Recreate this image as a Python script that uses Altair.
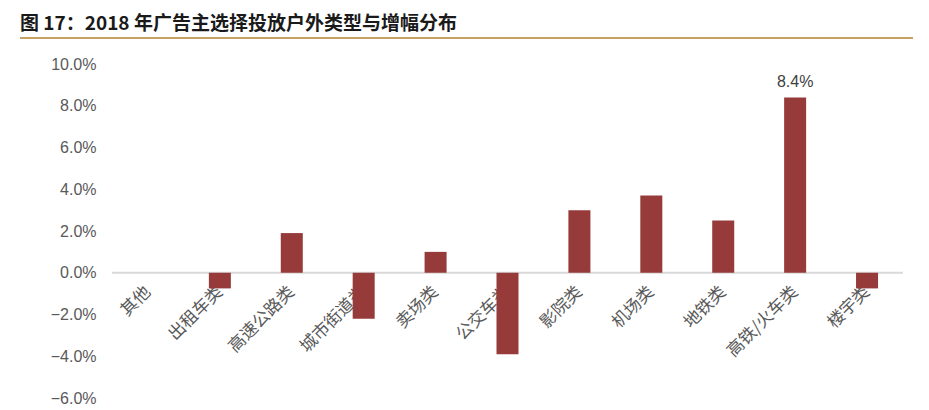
import altair as alt
import pandas as pd

categories = ["其他", "出租车类", "高速公路类", "城市街道类", "卖场类", "公交车类",
              "影院类", "机场类", "地铁类", "高铁/火车类", "楼宇类"]
values = [0.0, -0.0075, 0.019, -0.022, 0.010, -0.039, 0.030, 0.037, 0.025, 0.084, -0.0075]
labelled = ["高铁/火车类"]
title_text = "图 17：2018 年广告主选择投放户外类型与增幅分布"

df = pd.DataFrame({"cat": categories, "val": values})

W, H = 791, 334

x_enc = alt.X("cat:N", sort=categories,
              scale=alt.Scale(paddingInner=0, paddingOuter=0),
              axis=alt.Axis(title=None, labelAngle=-45, labelFont="Noto Sans CJK SC",
                            labelFontSize=17, labelColor="#595959", domain=False,
                            ticks=False, labelPadding=16, offset=-125, labelAlign="right",
                            labelBaseline="middle"))
y_enc = alt.Y("val:Q", scale=alt.Scale(domain=[-0.06, 0.10], nice=False),
              axis=alt.Axis(title=None, format=".1%", values=[-0.06, -0.04, -0.02, 0, 0.02, 0.04, 0.06, 0.08, 0.10],
                            grid=False, domain=False, ticks=False, labelPadding=16,
                            labelFont="Liberation Sans", labelFontSize=16, labelColor="#595959"))

bars = alt.Chart(df).mark_bar(size=22, color="#963A3A").encode(x=x_enc, y=y_enc)

zero = alt.Chart(pd.DataFrame({"z": [0]})).mark_rule(color="#d9d9d9", strokeWidth=2).encode(
    y=alt.Y("z:Q", scale=alt.Scale(domain=[-0.06, 0.10], nice=False)))

label = alt.Chart(df).transform_filter(
    alt.FieldOneOfPredicate(field="cat", oneOf=labelled)
).mark_text(baseline="bottom", dy=-7, font="Liberation Sans", fontSize=16, color="#404040").encode(
    x=alt.X("cat:N", sort=categories), y="val:Q", text=alt.Text("val:Q", format=".1%"))

title = alt.Chart(pd.DataFrame({"t": [title_text]})).mark_text(
    align="left", baseline="middle", font="Noto Sans CJK SC", fontSize=19,
    fontWeight="bold", color="#1a1a1a").encode(
    x=alt.value(-92), y=alt.value(-40), text="t:N")

gold = alt.Chart(pd.DataFrame({"a": [0]})).mark_rule(color="#C8A063", strokeWidth=2).encode(
    x=alt.value(-92), x2=alt.value(809), y=alt.value(-26))

chart = alt.layer(zero, bars, label, title, gold).properties(
    width=W, height=H,
    autosize=alt.AutoSizeParams(type="none"),
    padding={"left": 104, "top": 56, "right": 10, "bottom": 12},
).configure_view(stroke=None)

chart.save("out.html", embed_options={"renderer": "svg", "actions": False})
